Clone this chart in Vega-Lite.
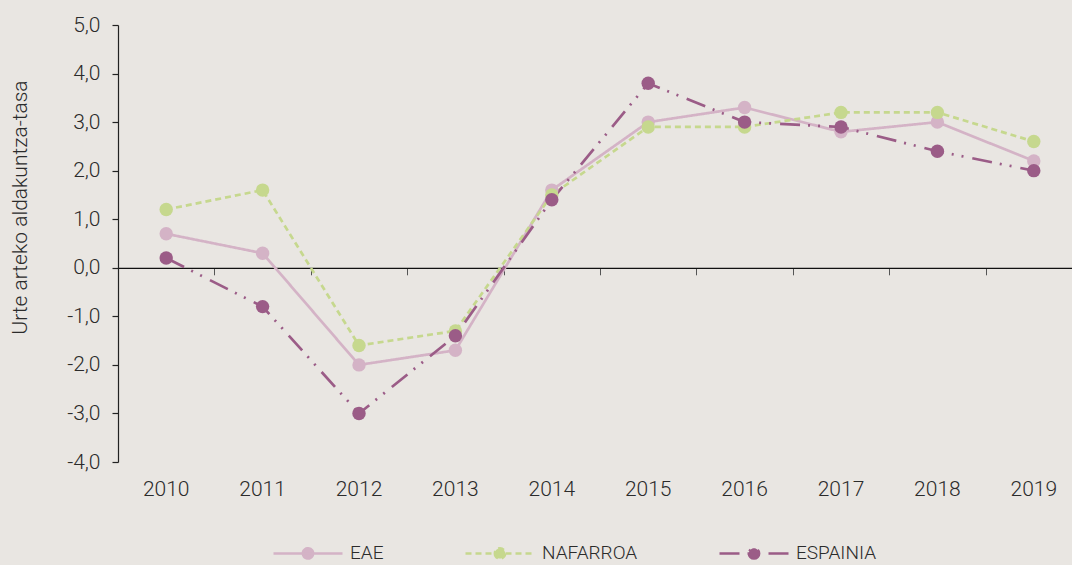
{
  "$schema": "https://vega.github.io/schema/vega-lite/v6.json",
  "width": 954,
  "height": 437,
  "autosize": {"type": "none"},
  "padding": {"left": 118, "top": 25, "right": 0, "bottom": 103},
  "background": "#E9E6E2",
  "config": {
    "view": {"stroke": null},
    "font": "Roboto",
    "axis": {"labelFont": "Roboto", "labelFontWeight": 300, "titleFont": "Roboto", "titleFontWeight": 300, "labelColor": "#2b2b2b", "titleColor": "#2b2b2b", "grid": false},
    "legend": {"labelFont": "Roboto", "labelFontWeight": 300}
  },
  "data": {
    "values": [
      {"year": "2010", "series": "EAE", "value": 0.7},
      {"year": "2011", "series": "EAE", "value": 0.3},
      {"year": "2012", "series": "EAE", "value": -2.0},
      {"year": "2013", "series": "EAE", "value": -1.7},
      {"year": "2014", "series": "EAE", "value": 1.6},
      {"year": "2015", "series": "EAE", "value": 3.0},
      {"year": "2016", "series": "EAE", "value": 3.3},
      {"year": "2017", "series": "EAE", "value": 2.8},
      {"year": "2018", "series": "EAE", "value": 3.0},
      {"year": "2019", "series": "EAE", "value": 2.2},
      {"year": "2010", "series": "NAFARROA", "value": 1.2},
      {"year": "2011", "series": "NAFARROA", "value": 1.6},
      {"year": "2012", "series": "NAFARROA", "value": -1.6},
      {"year": "2013", "series": "NAFARROA", "value": -1.3},
      {"year": "2014", "series": "NAFARROA", "value": 1.5},
      {"year": "2015", "series": "NAFARROA", "value": 2.9},
      {"year": "2016", "series": "NAFARROA", "value": 2.9},
      {"year": "2017", "series": "NAFARROA", "value": 3.2},
      {"year": "2018", "series": "NAFARROA", "value": 3.2},
      {"year": "2019", "series": "NAFARROA", "value": 2.6},
      {"year": "2010", "series": "ESPAINIA", "value": 0.2},
      {"year": "2011", "series": "ESPAINIA", "value": -0.8},
      {"year": "2012", "series": "ESPAINIA", "value": -3.0},
      {"year": "2013", "series": "ESPAINIA", "value": -1.4},
      {"year": "2014", "series": "ESPAINIA", "value": 1.4},
      {"year": "2015", "series": "ESPAINIA", "value": 3.8},
      {"year": "2016", "series": "ESPAINIA", "value": 3.0},
      {"year": "2017", "series": "ESPAINIA", "value": 2.9},
      {"year": "2018", "series": "ESPAINIA", "value": 2.4},
      {"year": "2019", "series": "ESPAINIA", "value": 2.0}
    ]
  },
  "resolve": {"axis": {"x": "independent"}},
  "layer": [
    {
      "mark": {"type": "line", "strokeWidth": 2.7},
      "encoding": {
        "x": {
          "field": "year", "type": "ordinal",
          "scale": {"type": "band", "range": [0, 964], "paddingInner": 0, "paddingOuter": 0},
          "axis": {"orient": "bottom", "title": null, "domain": false, "ticks": false, "labelAngle": 0, "labelFontSize": 21, "labelPadding": 16}
        },
        "y": {
          "field": "value", "type": "quantitative",
          "scale": {"domain": [-4, 5], "nice": false, "zero": false},
          "axis": {
            "title": "Urte arteko aldakuntza-tasa", "titleFontSize": 21, "titleX": -92, "titleY": 182, "titleBaseline": "alphabetic", "titleAngle": -90,
            "values": [-4, -3, -2, -1, 0, 1, 2, 3, 4, 5],
            "labelExpr": "replace(replace(format(datum.value, '.1f'), '.', ','), '\u2212', '-')",
            "labelFontSize": 21, "labelPadding": 12,
            "domainColor": "#222", "domainWidth": 1.2, "tickColor": "#222", "tickSize": 6, "tickWidth": 1.2
          }
        },
        "color": {
          "field": "series", "type": "nominal",
          "scale": {"domain": ["EAE", "NAFARROA", "ESPAINIA"], "range": ["#D4B3C6", "#C6D88E", "#9B5C87"]},
          "legend": {
            "orient": "none", "legendX": 154, "legendY": 492, "direction": "horizontal", "title": null, "padding": 0,
            "symbolType": "M-1,0H1M-0.15,0A0.15,0.15,0,1,0,0.15,0A0.15,0.15,0,1,0,-0.15,0Z",
            "symbolSize": 4761, "symbolStrokeWidth": 2.5, "labelFontSize": 19, "labelColor": "#2b2b2b",
            "columnPadding": 76, "labelOffset": 6,
            "encode": {"symbols": {"update": {"fill": {"scale": "color", "field": "value"}}}}
          }
        },
        "strokeDash": {
          "field": "series", "type": "nominal",
          "scale": {"domain": ["EAE", "NAFARROA", "ESPAINIA"], "range": [[1, 0], [6, 4], [20, 8, 2, 8, 2, 9]]},
          "legend": {
            "orient": "none", "legendX": 154, "legendY": 492, "direction": "horizontal", "title": null
          }
        }
      }
    },
    {
      "mark": {"type": "point", "filled": true, "opacity": 1, "size": 180},
      "encoding": {
        "x": {
          "field": "year", "type": "ordinal",
          "axis": {"orient": "top", "offset": -242.8, "title": null, "labels": false, "tickBand": "extent", "tickSize": -7, "tickColor": "#555", "tickWidth": 1, "domainColor": "#111", "domainWidth": 1.3}
        },
        "y": {"field": "value", "type": "quantitative"},
        "color": {"field": "series", "type": "nominal"}
      }
    }
  ]
}
